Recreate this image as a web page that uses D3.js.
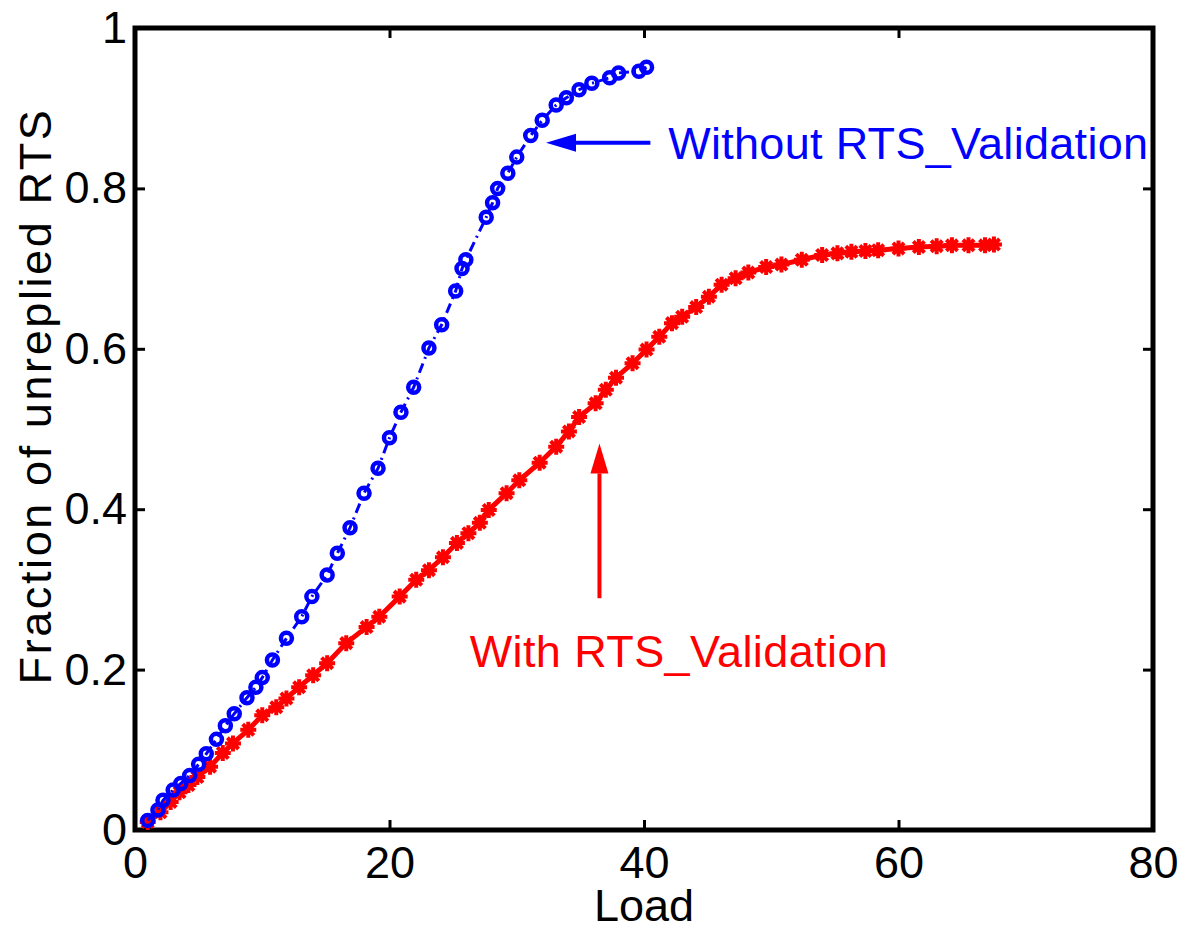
<!DOCTYPE html>
<html>
<head>
<meta charset="utf-8">
<script src="https://cdn.jsdelivr.net/npm/d3@7"></script>
<style>
  body { margin: 0; background: #fff; }
  text { font-family: "Liberation Sans", Arial, Helvetica, sans-serif; }
</style>
</head>
<body>
<div id="svg_chart"></div>
<script>
// load values (x) and fraction of unreplied RTS (y)
var without_load = [1.0, 1.8, 2.2, 3.0, 3.6, 4.3, 5.0, 5.6, 6.4, 7.1, 7.8, 8.8, 9.5, 10.0, 10.8,
  11.9, 13.1, 13.9, 15.1, 15.9, 16.9, 18.0, 19.1, 20.0, 20.9, 21.9, 23.1, 24.1, 25.2, 25.7,
  26.0, 27.6, 28.1, 28.5, 29.3, 30.0, 31.1, 32.0, 33.1, 33.9, 34.9, 35.9, 37.3, 38.0, 39.6, 40.2];
var without_frac = [0.012, 0.025, 0.037, 0.050, 0.058, 0.068, 0.082, 0.095, 0.113, 0.130, 0.145, 0.165, 0.178, 0.190, 0.212,
  0.239, 0.266, 0.291, 0.318, 0.345, 0.377, 0.420, 0.451, 0.489, 0.521, 0.552, 0.601, 0.630, 0.672, 0.700,
  0.711, 0.764, 0.782, 0.800, 0.819, 0.839, 0.866, 0.885, 0.904, 0.913, 0.923, 0.931, 0.938, 0.944, 0.946, 0.951];

var with_load = [1.0, 2.0, 2.8, 3.5, 4.2, 4.9, 5.9, 6.9, 7.7, 8.9, 10.0, 11.1, 11.9, 12.9, 14.0,
  15.1, 16.6, 18.2, 19.2, 20.8, 22.1, 23.1, 24.2, 25.3, 26.2, 27.1, 27.8, 29.2, 30.2, 31.8,
  33.1, 34.1, 34.9, 36.2, 37.0, 37.8, 39.1, 40.2, 41.2, 42.2, 43.0, 44.1, 45.1, 46.1, 47.2,
  48.2, 49.6, 50.8, 52.4, 54.0, 55.2, 56.3, 57.4, 58.4, 60.0, 61.6, 63.0, 64.2, 65.5, 66.8, 67.5];
var with_frac = [0.010, 0.022, 0.035, 0.047, 0.056, 0.066, 0.079, 0.096, 0.108, 0.125, 0.143, 0.153, 0.164, 0.178, 0.193,
  0.208, 0.233, 0.253, 0.266, 0.291, 0.312, 0.324, 0.340, 0.358, 0.370, 0.383, 0.399, 0.420, 0.436, 0.458,
  0.478, 0.497, 0.515, 0.532, 0.549, 0.564, 0.582, 0.599, 0.615, 0.632, 0.640, 0.652, 0.665, 0.680, 0.688,
  0.695, 0.702, 0.705, 0.711, 0.717, 0.719, 0.721, 0.722, 0.723, 0.725, 0.727, 0.728, 0.729, 0.729, 0.729, 0.730];

var x_ticks = [0, 20, 40, 60, 80];
var y_ticks = [0, 0.2, 0.4, 0.6, 0.8, 1];
var x_label = 'Load';
var y_label = 'Fraction of unreplied RTS';
var without_text = 'Without RTS_Validation';
var with_text = 'With RTS_Validation';

const svg_width = 1182
const svg_height = 929
const plot_left = 135, plot_top = 28, plot_right = 1153, plot_bottom = 830
const font_size = 45

var svg = d3.select('#svg_chart').append('svg')
  .attr('width', svg_width)
  .attr('height', svg_height);

var x_scale = d3.scaleLinear().domain([0, 80]).range([plot_left, plot_right]);
var y_scale = d3.scaleLinear().domain([0, 1]).range([plot_bottom, plot_top]);

// ticks on all four sides, pointing inward
var tick_len = 10;
svg.append('g')
  .attr('transform', `translate(0,${plot_bottom})`)
  .call(d3.axisBottom(x_scale).tickValues(x_ticks).tickSizeInner(-tick_len).tickSizeOuter(0).tickPadding(16).tickFormat(d3.format('d')))
  .call(g => g.select('.domain').remove())
  .call(g => g.selectAll('line').attr('stroke-width', 3))
  .call(g => g.selectAll('text').style('font-size', font_size + 'px').attr('fill', '#000'));

svg.append('g')
  .attr('transform', `translate(${plot_left},0)`)
  .call(d3.axisLeft(y_scale).tickValues(y_ticks).tickSizeInner(-tick_len).tickSizeOuter(0).tickPadding(8).tickFormat(d3.format('')))
  .call(g => g.select('.domain').remove())
  .call(g => g.selectAll('line').attr('stroke-width', 3))
  .call(g => g.selectAll('text').style('font-size', font_size + 'px').attr('fill', '#000'));

svg.append('g')
  .attr('transform', `translate(0,${plot_top})`)
  .call(d3.axisTop(x_scale).tickValues(x_ticks).tickSizeInner(-tick_len).tickSizeOuter(0).tickFormat(''))
  .call(g => g.select('.domain').remove())
  .call(g => g.selectAll('line').attr('stroke-width', 3));

svg.append('g')
  .attr('transform', `translate(${plot_right},0)`)
  .call(d3.axisRight(y_scale).tickValues(y_ticks).tickSizeInner(-tick_len).tickSizeOuter(0).tickFormat(''))
  .call(g => g.select('.domain').remove())
  .call(g => g.selectAll('line').attr('stroke-width', 3));

// plot box
svg.append('rect')
  .attr('fill', 'none')
  .attr('stroke', 'black')
  .attr('stroke-width', 5)
  .attr('x', plot_left)
  .attr('y', plot_top)
  .attr('width', plot_right - plot_left)
  .attr('height', plot_bottom - plot_top);

// axis labels
svg.append('text')
  .text(x_label)
  .attr('x', (plot_left + plot_right) / 2)
  .attr('y', 921)
  .attr('text-anchor', 'middle')
  .style('font-size', font_size + 'px');

svg.append('text')
  .text(y_label)
  .attr('transform', 'translate(51,396) rotate(-90)')
  .attr('text-anchor', 'middle')
  .attr('letter-spacing', 2.6)
  .style('font-size', font_size + 'px');

var without_data = without_load.map((d, i) => [d, without_frac[i]]);
var with_data = with_load.map((d, i) => [d, with_frac[i]]);

var line = d3.line()
  .x(d => x_scale(d[0]))
  .y(d => y_scale(d[1]));

// red: solid line with star markers
svg.append('path')
  .datum(with_data)
  .attr('fill', 'none')
  .attr('stroke', '#ff0000')
  .attr('stroke-width', 5)
  .attr('d', line);

var star = 8;
svg.append('g')
  .selectAll('path')
  .data(with_data)
  .enter()
  .append('path')
  .attr('transform', d => `translate(${x_scale(d[0])},${y_scale(d[1])})`)
  .attr('d', `M${-star},0H${star}M0,${-star}V${star}M${-star * 0.7},${-star * 0.7}L${star * 0.7},${star * 0.7}M${-star * 0.7},${star * 0.7}L${star * 0.7},${-star * 0.7}`)
  .attr('stroke', '#ff0000')
  .attr('stroke-width', 4)
  .attr('fill', 'none');

// blue: dash-dot line with circle markers
svg.append('path')
  .datum(without_data)
  .attr('fill', 'none')
  .attr('stroke', '#0000ff')
  .attr('stroke-width', 3)
  .attr('stroke-dasharray', '10,5,2,5')
  .attr('d', line);

svg.append('g')
  .selectAll('circle')
  .data(without_data)
  .enter()
  .append('circle')
  .attr('cx', d => x_scale(d[0]))
  .attr('cy', d => y_scale(d[1]))
  .attr('r', 5.5)
  .attr('fill', 'none')
  .attr('stroke', '#0000ff')
  .attr('stroke-width', 4.5);

// annotations
function arrow(x1, y1, x2, y2, color) {
  var ang = Math.atan2(y2 - y1, x2 - x1);
  var len = 30, half = 9;
  var bx = x2 - len * Math.cos(ang), by = y2 - len * Math.sin(ang);
  svg.append('line')
    .attr('x1', x1).attr('y1', y1)
    .attr('x2', bx).attr('y2', by)
    .attr('stroke', color)
    .attr('stroke-width', 4);
  svg.append('path')
    .attr('d', `M${x2},${y2}L${bx - half * Math.sin(ang)},${by + half * Math.cos(ang)}L${bx + half * Math.sin(ang)},${by - half * Math.cos(ang)}Z`)
    .attr('fill', color);
}

arrow(x_scale(40.5), y_scale(0.857), x_scale(32.3), y_scale(0.857), '#0000ff');
arrow(x_scale(36.5), y_scale(0.289), x_scale(36.5), y_scale(0.482), '#ff0000');

svg.append('text')
  .text(without_text)
  .attr('x', x_scale(41.9))
  .attr('y', y_scale(0.837))
  .attr('fill', '#0000ff')
  .attr('letter-spacing', 0.3)
  .style('font-size', font_size + 'px');

svg.append('text')
  .text(with_text)
  .attr('x', x_scale(26.3))
  .attr('y', y_scale(0.203))
  .attr('fill', '#ff0000')
  .attr('letter-spacing', 0.4)
  .style('font-size', font_size + 'px');
</script>
</body>
</html>
